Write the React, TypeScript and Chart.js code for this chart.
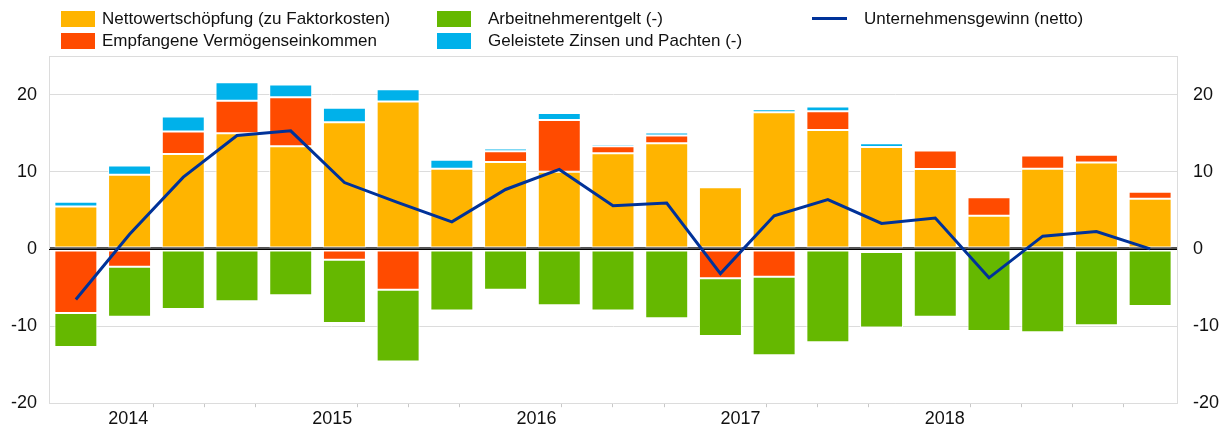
import React, { useEffect, useRef } from 'react';
import { Chart, registerables } from 'chart.js';

Chart.register(...registerables);

const categories = [
  '2014 Q1', '2014 Q2', '2014 Q3', '2014 Q4',
  '2015 Q1', '2015 Q2', '2015 Q3', '2015 Q4',
  '2016 Q1', '2016 Q2', '2016 Q3', '2016 Q4',
  '2017 Q1', '2017 Q2', '2017 Q3', '2017 Q4',
  '2018 Q1', '2018 Q2', '2018 Q3', '2018 Q4',
  '2019 Q1',
];
const yearLabels = ['2014', '2015', '2016', '2017', '2018'];
const yTicks = [-20, -10, 0, 10, 20];

const nettowertschoepfung = [5.5, 9.6, 12.3, 15.0, 13.3, 16.4, 19.1, 10.4, 11.25, 10.0, 12.4, 13.7, 8.0, 17.7, 15.4, 13.2, 10.35, 4.3, 10.4, 11.2, 6.5];
const vermoegenseinkommen = [-8.3, -2.3, 2.9, 4.2, 6.35, -1.4, -5.3, 0, 1.4, 6.7, 0.9, 1.0, -3.8, -3.6, 2.45, -0.4, 2.4, 2.4, 1.7, 1.0, 0.9];
const zinsenPachten = [0.6, 1.2, 1.95, 2.4, 1.65, 1.9, 1.6, 1.15, 0.35, 0.9, 0.3, 0.4, 0.15, 0.4, 0.6, 0.5, 0, 0.25, 0.2, 0, 0.15];
const arbeitnehmerentgelt = [-4.4, -6.5, -7.8, -6.8, -6.0, -8.2, -9.3, -8.0, -5.3, -7.3, -8.0, -9.0, -7.5, -10.2, -12.1, -9.8, -8.8, -10.65, -10.8, -9.9, -7.4];
const unternehmensgewinn = [-6.55, 1.9, 9.3, 14.7, 15.3, 8.6, 6.0, 3.5, 7.7, 10.3, 5.6, 5.95, -3.2, 4.3, 6.4, 3.3, 4.0, -3.75, 1.65, 2.25, 0.0];

const YELLOW = '#FFB400';
const RED = '#FF4B00';
const BLUE = '#00B1EA';
const GREEN = '#65B800';
const NAVY = '#003299';
const FONT = '"Liberation Sans", Arial, sans-serif';
const GRID = '#dcdcdc';

const decoPlugin = {
  id: 'deco',
  beforeDatasetsDraw(chart: any) {
    const { ctx, chartArea } = chart;
    ctx.save();
    ctx.strokeStyle = GRID;
    ctx.lineWidth = 1;
    ctx.beginPath();
    ctx.moveTo(chartArea.left, chartArea.top + 0.5);
    ctx.lineTo(chartArea.right, chartArea.top + 0.5);
    ctx.stroke();
    ctx.restore();
  },
  beforeDatasetDraw(chart: any, args: any) {
    if (args.meta.type !== 'line') return;
    const { ctx, chartArea } = chart;
    const y = Math.round(chart.scales.y.getPixelForValue(0)) + 0.5;
    ctx.save();
    ctx.strokeStyle = '#000';
    ctx.lineWidth = 1;
    ctx.beginPath();
    ctx.moveTo(chartArea.left, y);
    ctx.lineTo(chartArea.right, y);
    ctx.stroke();
    ctx.restore();
  },
};

function LegendBox({ left, top, color }: { left: number; top: number; color: string }) {
  return <div style={{ position: 'absolute', left, top, width: 34, height: 16, background: color }} />;
}
function LegendText({ left, center, text }: { left: number; center: number; text: string }) {
  return (
    <div
      style={{
        position: 'absolute',
        left,
        top: center - 11,
        height: 22,
        lineHeight: '22px',
        fontFamily: FONT,
        fontSize: 17,
        color: '#111',
        whiteSpace: 'nowrap',
      }}
    >
      {text}
    </div>
  );
}

export default function App() {
  const canvasRef = useRef<HTMLCanvasElement | null>(null);

  useEffect(() => {
    if (!canvasRef.current) return;
    const boundaries = categories.slice(1).map((_, i) => i + 0.5);
    const chart = new Chart(canvasRef.current, {
      type: 'bar',
      data: {
        labels: categories,
        datasets: [
          { type: 'bar', label: 'Nettowertschöpfung (zu Faktorkosten)', data: nettowertschoepfung, backgroundColor: YELLOW, borderColor: '#ffffff', borderWidth: 1, borderSkipped: false, order: 1 },
          { type: 'bar', label: 'Empfangene Vermögenseinkommen', data: vermoegenseinkommen, backgroundColor: RED, borderColor: '#ffffff', borderWidth: 1, borderSkipped: false, order: 1 },
          { type: 'bar', label: 'Geleistete Zinsen und Pachten (-)', data: zinsenPachten, backgroundColor: BLUE, borderColor: '#ffffff', borderWidth: 1, borderSkipped: false, order: 1 },
          { type: 'bar', label: 'Arbeitnehmerentgelt (-)', data: arbeitnehmerentgelt, backgroundColor: GREEN, borderColor: '#ffffff', borderWidth: 1, borderSkipped: false, order: 1 },
          { type: 'line', label: 'Unternehmensgewinn (netto)', data: unternehmensgewinn, borderColor: NAVY, backgroundColor: NAVY, borderWidth: 3, pointRadius: 0, tension: 0, stack: 'line', order: 0 } as any,
        ],
      },
      options: {
        animation: false,
        responsive: false,
        devicePixelRatio: 1,
        layout: { padding: { top: 56, left: 0, right: 0, bottom: 0 } },
        datasets: { bar: { barPercentage: 0.8, categoryPercentage: 1 } },
        plugins: { legend: { display: false }, tooltip: { enabled: false } },
        scales: {
          x: { type: 'category', stacked: true, offset: true, display: false, grid: { display: false } },
          x2: {
            type: 'linear',
            position: 'bottom',
            min: -0.5,
            max: categories.length - 0.5,
            afterBuildTicks: (axis: any) => {
              axis.ticks = boundaries.map((v) => ({ value: v }));
            },
            afterFit: (axis: any) => {
              axis.height = 26;
            },
            border: { display: true, color: GRID, width: 1 },
            grid: {
              drawOnChartArea: false,
              drawTicks: true,
              tickLength: 4,
              color: (c: any) => {
                const v = c.tick ? c.tick.value : 0;
                return (v - 0.5) % 4 === 0 ? 'rgba(0,0,0,0)' : '#c8c8c8';
              },
            },
            ticks: {
              autoSkip: false,
              maxRotation: 0,
              padding: 1,
              color: '#111',
              font: { family: FONT, size: 18 },
              callback: (v: any) => {
                const k = (Number(v) - 0.5) / 4;
                return Number.isInteger(k) && k < yearLabels.length ? yearLabels[k] : '';
              },
            },
          },
          y: {
            type: 'linear',
            position: 'left',
            stacked: true,
            min: -20,
            max: 25,
            afterBuildTicks: (axis: any) => {
              axis.ticks = yTicks.map((v) => ({ value: v }));
            },
            afterFit: (axis: any) => {
              axis.width = 49;
            },
            border: { display: true, color: GRID, width: 1 },
            grid: {
              drawTicks: false,
              color: (c: any) => (c.tick && c.tick.value === 0 ? '#555555' : GRID),
              lineWidth: (c: any) => (c.tick && c.tick.value === 0 ? 3 : 1),
            },
            ticks: { padding: 12, color: '#111', font: { family: FONT, size: 18 } },
          },
          y2: {
            type: 'linear',
            position: 'right',
            min: -20,
            max: 25,
            afterBuildTicks: (axis: any) => {
              axis.ticks = yTicks.map((v) => ({ value: v }));
            },
            afterFit: (axis: any) => {
              axis.width = 47;
            },
            border: { display: true, color: GRID, width: 1 },
            grid: { drawOnChartArea: false, drawTicks: false },
            ticks: { padding: 16, color: '#111', font: { family: FONT, size: 18 } },
          },
        },
      },
      plugins: [decoPlugin],
    } as any);
    return () => chart.destroy();
  }, []);

  return (
    <div style={{ position: 'fixed', left: 0, top: 0, width: 1224, height: 430, background: '#fff' }}>
      <canvas ref={canvasRef} width={1224} height={430} style={{ position: 'absolute', left: 0, top: 0 }} />
      <LegendBox left={61} top={11} color={YELLOW} />
      <LegendText left={102} center={19} text="Nettowertschöpfung (zu Faktorkosten)" />
      <LegendBox left={61} top={33} color={RED} />
      <LegendText left={102} center={41} text="Empfangene Vermögenseinkommen" />
      <LegendBox left={437} top={11} color={GREEN} />
      <LegendText left={488} center={19} text="Arbeitnehmerentgelt (-)" />
      <LegendBox left={437} top={33} color={BLUE} />
      <LegendText left={488} center={41} text="Geleistete Zinsen und Pachten (-)" />
      <div style={{ position: 'absolute', left: 812, top: 17, width: 35, height: 3, background: NAVY }} />
      <LegendText left={864} center={19} text="Unternehmensgewinn (netto)" />
    </div>
  );
}
